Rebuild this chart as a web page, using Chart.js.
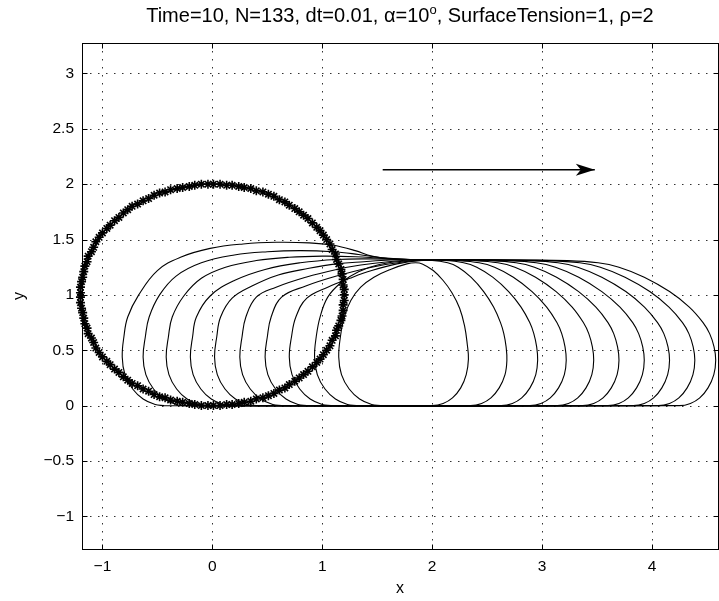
<!DOCTYPE html>
<html>
<head>
<meta charset="utf-8">
<script src="https://cdn.jsdelivr.net/npm/chart.js@4.4.0/dist/chart.umd.min.js"></script>
<style>
  html, body { margin: 0; padding: 0; overflow: hidden; background: #fff; width: 719px; height: 601px; }
  #wrap { position: absolute; left: 0; top: 0; width: 724px; height: 601px; }
</style>
</head>
<body>
<div id="wrap"><canvas id="c" width="724" height="601"></canvas></div>
<script>
// Initial drop outline (133 marker points)
const ellipseX = [1.20,1.20,1.19,1.19,1.18,1.17,1.15,1.13,1.12,1.09,1.07,1.04,1.01,0.98,0.95,0.91,0.87,0.83,0.79,0.75,0.70,0.66,0.61,0.56,0.51,0.46,0.40,0.35,0.29,0.24,0.18,0.13,0.07,0.01,
  -0.04,-0.10,-0.16,-0.21,-0.27,-0.32,-0.38,-0.43,-0.48,-0.53,-0.58,-0.63,-0.68,-0.73,-0.77,-0.81,-0.85,-0.89,-0.93,-0.96,-1.00,-1.03,-1.06,-1.08,-1.10,-1.13,-1.14,-1.16,-1.17,-1.18,-1.19,-1.20,-1.20,
  -1.20,-1.20,-1.19,-1.18,-1.17,-1.16,-1.14,-1.13,-1.10,-1.08,-1.06,-1.03,-1.00,-0.96,-0.93,-0.89,-0.85,-0.81,-0.77,-0.73,-0.68,-0.63,-0.58,-0.53,-0.48,-0.43,-0.38,-0.32,-0.27,-0.21,-0.16,-0.10,-0.04,
  0.01,0.07,0.13,0.18,0.24,0.29,0.35,0.40,0.46,0.51,0.56,0.61,0.66,0.70,0.75,0.79,0.83,0.87,0.91,0.95,0.98,1.01,1.04,1.07,1.09,1.12,1.13,1.15,1.17,1.18,1.19,1.19,1.20];
const ellipseY = [1.00,1.05,1.09,1.14,1.19,1.23,1.28,1.32,1.37,1.41,1.46,1.50,1.54,1.58,1.61,1.65,1.69,1.72,1.75,1.78,1.81,1.84,1.86,1.89,1.91,1.93,1.94,1.96,1.97,1.98,1.99,1.99,2.00,2.00,
  2.00,2.00,1.99,1.98,1.97,1.96,1.95,1.93,1.92,1.90,1.87,1.85,1.82,1.80,1.77,1.74,1.70,1.67,1.63,1.60,1.56,1.52,1.48,1.43,1.39,1.35,1.30,1.26,1.21,1.16,1.12,1.07,1.02,
  0.98,0.93,0.88,0.84,0.79,0.74,0.70,0.65,0.61,0.57,0.52,0.48,0.44,0.40,0.37,0.33,0.30,0.26,0.23,0.20,0.18,0.15,0.13,0.10,0.08,0.07,0.05,0.04,0.03,0.02,0.01,0.00,0.00,
  0.00,0.00,0.01,0.01,0.02,0.03,0.04,0.06,0.07,0.09,0.11,0.14,0.16,0.19,0.22,0.25,0.28,0.31,0.35,0.39,0.42,0.46,0.50,0.54,0.59,0.63,0.68,0.72,0.77,0.81,0.86,0.91,0.95];

// Drop outlines, innermost (A) to outermost (J); each is a closed loop
const dropAx = [1.53,2.00,2.10,2.185,2.26,2.31,2.33,2.32,2.295,2.25,2.18,2.10,2.01,1.91,1.85,1.77,1.62,1.47,1.35,1.26,1.20,1.165,1.15,1.175,1.245,1.34,1.45,1.53];
const dropAy = [0,0,0.02,0.07,0.16,0.28,0.42,0.55,0.72,0.88,1.02,1.13,1.22,1.28,1.29,1.28,1.23,1.16,1.07,0.95,0.80,0.62,0.44,0.28,0.15,0.06,0.01,0];
const dropBx = [1.31,2.35,2.45,2.535,2.61,2.663,2.68,2.673,2.652,2.622,2.559,2.469,2.353,2.237,2.141,2.00,1.75,1.52,1.33,1.17,1.05,0.98,0.945,0.93,0.955,1.025,1.12,1.23,1.31];
const dropBy = [0,0,0.02,0.07,0.16,0.28,0.41,0.53,0.65,0.75,0.89,1.03,1.16,1.25,1.29,1.31,1.305,1.275,1.21,1.11,0.98,0.80,0.62,0.44,0.28,0.15,0.06,0.01,0];
const dropCx = [1.08,2.63,2.73,2.815,2.89,2.943,2.96,2.951,2.925,2.888,2.809,2.696,2.551,2.406,2.286,2.11,1.90,1.68,1.45,1.25,1.05,0.86,0.76,0.72,0.70,0.725,0.795,0.89,1.00,1.08];
const dropCy = [0,0,0.02,0.07,0.16,0.28,0.41,0.53,0.65,0.75,0.89,1.03,1.16,1.25,1.29,1.31,1.31,1.28,1.22,1.15,1.07,0.97,0.80,0.62,0.44,0.28,0.15,0.06,0.01,0];
const dropDx = [0.86,2.89,2.99,3.075,3.15,3.203,3.22,3.209,3.179,3.135,3.042,2.909,2.739,2.568,2.427,2.22,2.00,1.75,1.45,1.13,0.85,0.63,0.535,0.50,0.48,0.505,0.575,0.67,0.78,0.86];
const dropDy = [0,0,0.02,0.07,0.16,0.28,0.41,0.53,0.65,0.75,0.89,1.03,1.16,1.25,1.29,1.31,1.315,1.30,1.25,1.17,1.08,0.98,0.80,0.62,0.44,0.28,0.15,0.06,0.01,0];
const dropEx = [0.63,3.14,3.24,3.325,3.40,3.453,3.47,3.458,3.425,3.376,3.274,3.128,2.941,2.753,2.598,2.37,2.10,1.85,1.60,1.35,1.13,0.85,0.58,0.40,0.305,0.27,0.25,0.275,0.345,0.44,0.55,0.63];
const dropEy = [0,0,0.02,0.07,0.16,0.28,0.41,0.53,0.65,0.75,0.89,1.03,1.16,1.25,1.29,1.31,1.315,1.315,1.30,1.27,1.23,1.16,1.07,0.98,0.80,0.62,0.44,0.28,0.15,0.06,0.01,0];
const dropFx = [0.40,3.37,3.47,3.555,3.63,3.683,3.70,3.687,3.652,3.60,3.49,3.333,3.132,2.931,2.764,2.52,2.20,1.90,1.62,1.38,1.13,0.88,0.60,0.36,0.18,0.075,0.04,0.02,0.045,0.115,0.21,0.32,0.40];
const dropFy = [0,0,0.02,0.07,0.16,0.28,0.41,0.53,0.65,0.75,0.89,1.03,1.16,1.25,1.29,1.31,1.315,1.32,1.315,1.30,1.28,1.24,1.18,1.08,0.97,0.80,0.62,0.44,0.28,0.15,0.06,0.01,0];
const dropGx = [0.18,3.60,3.70,3.785,3.86,3.913,3.93,3.916,3.879,3.825,3.709,3.544,3.334,3.122,2.947,2.69,2.35,2.05,1.75,1.45,1.13,0.80,0.48,0.20,-0.02,-0.145,-0.18,-0.20,-0.175,-0.105,-0.01,0.10,0.18];
const dropGy = [0,0,0.02,0.07,0.16,0.28,0.41,0.53,0.65,0.75,0.89,1.03,1.16,1.25,1.29,1.31,1.315,1.32,1.32,1.325,1.32,1.29,1.23,1.13,0.99,0.80,0.62,0.44,0.28,0.15,0.06,0.01,0];
const dropHx = [-0.04,3.83,3.93,4.015,4.09,4.143,4.16,4.146,4.108,4.051,3.932,3.762,3.544,3.325,3.145,2.88,2.50,2.15,1.80,1.55,1.30,1.00,0.70,0.40,0.12,-0.10,-0.26,-0.365,-0.40,-0.42,-0.395,-0.325,-0.23,-0.12,-0.04];
const dropHy = [0,0,0.02,0.07,0.16,0.28,0.41,0.53,0.65,0.75,0.89,1.03,1.16,1.25,1.29,1.31,1.315,1.32,1.32,1.33,1.345,1.35,1.34,1.31,1.25,1.15,0.99,0.80,0.62,0.44,0.28,0.15,0.06,0.01,0];
const dropIx = [-0.25,4.06,4.16,4.245,4.32,4.373,4.39,4.375,4.336,4.278,4.155,3.98,3.755,3.53,3.343,3.07,2.65,2.20,1.80,1.55,1.33,1.10,0.80,0.50,0.20,-0.10,-0.33,-0.48,-0.575,-0.61,-0.63,-0.605,-0.535,-0.44,-0.33,-0.25];
const dropIy = [0,0,0.02,0.07,0.16,0.28,0.41,0.53,0.65,0.75,0.89,1.03,1.16,1.25,1.29,1.31,1.315,1.32,1.32,1.335,1.365,1.39,1.40,1.39,1.36,1.29,1.17,1.00,0.80,0.62,0.44,0.28,0.15,0.06,0.01,0];
const dropJx = [-0.44,4.25,4.35,4.435,4.51,4.563,4.58,4.565,4.525,4.465,4.34,4.16,3.93,3.70,3.51,3.23,2.80,2.30,1.85,1.62,1.45,1.30,1.09,0.88,0.58,0.28,-0.02,-0.29,-0.50,-0.67,-0.77,-0.805,-0.82,-0.795,-0.725,-0.63,-0.52,-0.44];
const dropJy = [0,0,0.02,0.07,0.16,0.28,0.41,0.53,0.65,0.75,0.89,1.03,1.16,1.25,1.29,1.31,1.315,1.32,1.32,1.325,1.35,1.40,1.45,1.47,1.475,1.46,1.42,1.34,1.22,1.00,0.80,0.62,0.44,0.28,0.15,0.06,0.01,0];

// Direction arrow
const arrowX = [1.55, 3.48];
const arrowY = [2.13, 2.13];

// Axis ticks
const xTickValues = [-1, 0, 1, 2, 3, 4];
const xTickLabels = ['\u22121', '0', '1', '2', '3', '4'];
const yTickValues = [-1, -0.5, 0, 0.5, 1, 1.5, 2, 2.5, 3];
const yTickLabels = ['\u22121', '\u22120.5', '0', '0.5', '1', '1.5', '2', '2.5', '3'];

const titleMain = 'Time=10, N=133, dt=0.01, \u03b1=10';
const titleSup = 'o';
const titleRest = ', SurfaceTension=1, \u03c1=2';
const xLabel = 'x';
const yLabel = 'y';

const FONT = '"Liberation Sans", Arial, Helvetica, sans-serif';

function pts(xs, ys) { return xs.map((v, i) => ({ x: v, y: ys[i] })); }

const dropSets = [
  [dropAx, dropAy], [dropBx, dropBy], [dropCx, dropCy], [dropDx, dropDy], [dropEx, dropEy],
  [dropFx, dropFy], [dropGx, dropGy], [dropHx, dropHy], [dropIx, dropIy], [dropJx, dropJy]
];

const datasets = dropSets.map(([xs, ys]) => ({
  data: pts(xs, ys),
  showLine: true,
  borderColor: '#000',
  borderWidth: 1.1,
  pointRadius: 0,
  tension: 0.4,
  fill: false
}));

datasets.push({
  data: pts(ellipseX, ellipseY),
  showLine: false,
  pointStyle: 'star',
  pointRadius: 4.5,
  pointBorderColor: '#000',
  pointBorderWidth: 1.6,
  borderColor: '#000',
  clip: false
});

datasets.push({
  data: pts(arrowX, arrowY),
  showLine: true,
  borderColor: '#000',
  borderWidth: 1.5,
  pointRadius: 0,
  tension: 0
});

function labelFor(values, labels) {
  return (v) => {
    const i = values.findIndex(t => Math.abs(t - v) < 1e-9);
    return i >= 0 ? labels[i] : '';
  };
}

const framePlugin = {
  id: 'frame',
  beforeDatasetsDraw(chart) {
    const { ctx, chartArea: a, scales: { x, y } } = chart;
    ctx.save();
    ctx.strokeStyle = '#333';
    ctx.lineWidth = 1;
    ctx.setLineDash([1.5, 6.5]);
    xTickValues.forEach(v => {
      const px = Math.round(x.getPixelForValue(v)) + 0.5;
      ctx.beginPath(); ctx.moveTo(px, a.top); ctx.lineTo(px, a.bottom); ctx.stroke();
    });
    yTickValues.forEach(v => {
      const py = Math.round(y.getPixelForValue(v)) + 0.5;
      ctx.beginPath(); ctx.moveTo(a.left, py); ctx.lineTo(a.right, py); ctx.stroke();
    });
    ctx.restore();
  },
  afterDatasetsDraw(chart) {
    const { ctx, chartArea: a, scales: { x, y } } = chart;
    ctx.save();
    // arrow head
    const tx = x.getPixelForValue(arrowX[1]);
    const ty = y.getPixelForValue(arrowY[1]);
    ctx.fillStyle = '#000';
    ctx.beginPath();
    ctx.moveTo(tx, ty);
    ctx.lineTo(tx - 19, ty - 6);
    ctx.lineTo(tx - 14, ty);
    ctx.lineTo(tx - 19, ty + 6);
    ctx.closePath();
    ctx.fill();
    // box
    ctx.strokeStyle = '#000';
    ctx.lineWidth = 1;
    const L = Math.round(a.left) + 0.5, R = Math.round(a.right) + 0.5;
    const T = Math.round(a.top) + 0.5, B = Math.round(a.bottom) + 0.5;
    ctx.strokeRect(L, T, R - L, B - T);
    // inward ticks on all four sides
    const tl = 5;
    ctx.beginPath();
    xTickValues.forEach(v => {
      const px = Math.round(x.getPixelForValue(v)) + 0.5;
      ctx.moveTo(px, B); ctx.lineTo(px, B - tl);
      ctx.moveTo(px, T); ctx.lineTo(px, T + tl);
    });
    yTickValues.forEach(v => {
      const py = Math.round(y.getPixelForValue(v)) + 0.5;
      ctx.moveTo(L, py); ctx.lineTo(L + tl, py);
      ctx.moveTo(R, py); ctx.lineTo(R - tl, py);
    });
    ctx.stroke();
    ctx.restore();
  },
  afterDraw(chart) {
    const { ctx, chartArea: a } = chart;
    ctx.save();
    ctx.fillStyle = '#000';
    // title with superscript degree mark
    const size = 20;
    const supSize = 13;
    ctx.font = size + 'px ' + FONT;
    const w1 = ctx.measureText(titleMain).width;
    const w3 = ctx.measureText(titleRest).width;
    ctx.font = supSize + 'px ' + FONT;
    const w2 = ctx.measureText(titleSup).width;
    const total = w1 + w2 + w3;
    const cx = (a.left + a.right) / 2;
    const sx = cx - total / 2;
    const base = 22;
    ctx.textBaseline = 'alphabetic';
    ctx.textAlign = 'left';
    ctx.font = size + 'px ' + FONT;
    ctx.fillText(titleMain, sx, base);
    ctx.font = supSize + 'px ' + FONT;
    ctx.fillText(titleSup, sx + w1, base - 8);
    ctx.font = size + 'px ' + FONT;
    ctx.fillText(titleRest, sx + w1 + w2, base);
    // axis labels
    ctx.font = '16px ' + FONT;
    ctx.textAlign = 'center';
    ctx.fillText(xLabel, cx, 593);
    ctx.translate(20, (a.top + a.bottom) / 2);
    ctx.rotate(-Math.PI / 2);
    ctx.textBaseline = 'middle';
    ctx.fillText(yLabel, 0, 0);
    ctx.restore();
  }
};

new Chart(document.getElementById('c'), {
  type: 'scatter',
  data: { datasets },
  options: {
    responsive: false,
    animation: false,
    devicePixelRatio: 1,
    layout: { padding: { top: 43, right: 4, left: 0, bottom: 0 } },
    plugins: { legend: { display: false }, tooltip: { enabled: false }, title: { display: false } },
    scales: {
      x: {
        type: 'linear',
        min: -1.186,
        max: 4.6,
        grid: { display: false, drawTicks: false },
        border: { display: false },
        afterBuildTicks(scale) { scale.ticks = xTickValues.map(v => ({ value: v })); },
        afterFit(scale) { scale.height = 52; },
        ticks: {
          padding: 8,
          color: '#000',
          font: { family: FONT, size: 15.5 },
          maxRotation: 0,
          callback: labelFor(xTickValues, xTickLabels)
        }
      },
      y: {
        type: 'linear',
        min: -1.295,
        max: 3.275,
        grid: { display: false, drawTicks: false },
        border: { display: false },
        afterBuildTicks(scale) { scale.ticks = yTickValues.map(v => ({ value: v })); },
        afterFit(scale) { scale.width = 82; },
        ticks: {
          padding: 8,
          color: '#000',
          font: { family: FONT, size: 15.5 },
          callback: labelFor(yTickValues, yTickLabels)
        }
      }
    }
  },
  plugins: [framePlugin]
});
</script>
</body>
</html>
